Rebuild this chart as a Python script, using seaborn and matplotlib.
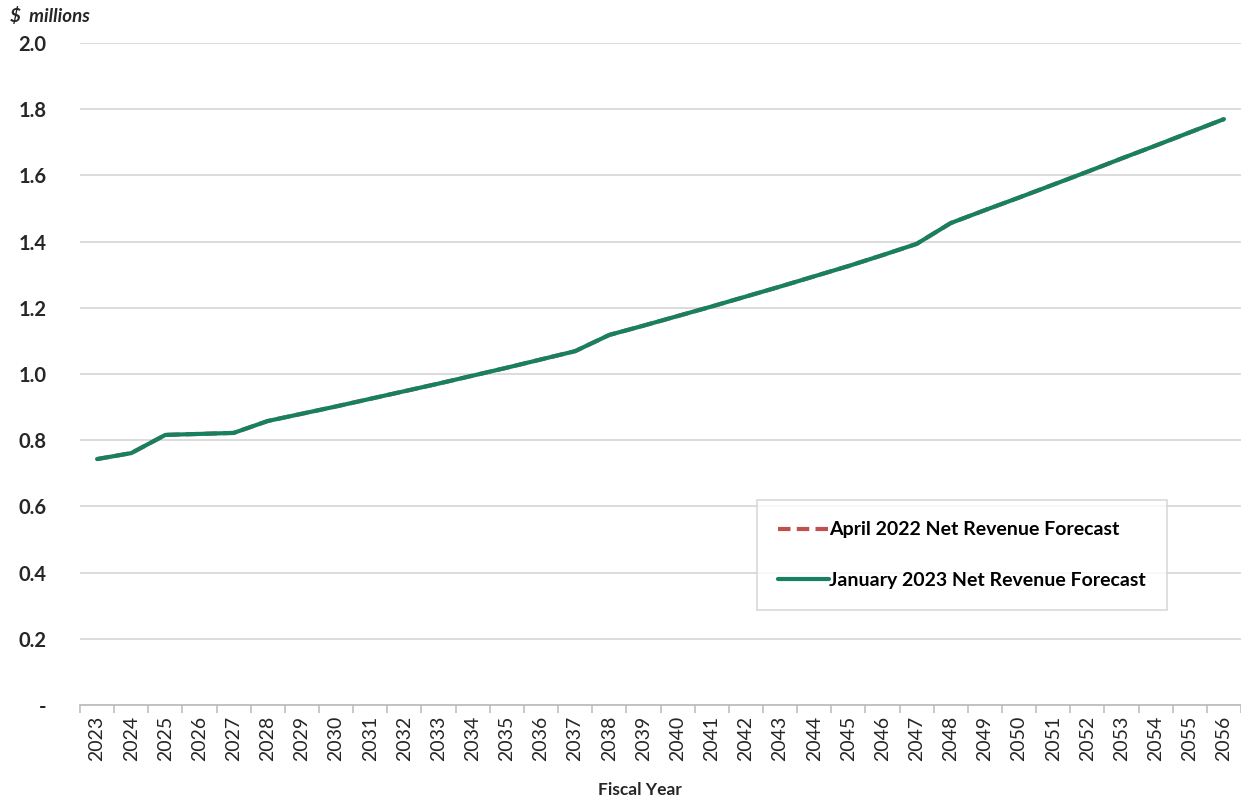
import numpy as np
import pandas as pd
import matplotlib
matplotlib.use("Agg")
import matplotlib.pyplot as plt
import seaborn as sns
from matplotlib.ticker import FixedLocator, FuncFormatter

# 财年与两次预测（单位：百万美元）
years = list(range(2023, 2057))
jan_2023 = [0.743, 0.761, 0.816, 0.819, 0.822, 0.858, 0.880, 0.902, 0.925, 0.948,
            0.971, 0.995, 1.019, 1.044, 1.069, 1.118, 1.146, 1.175, 1.204, 1.234,
            1.264, 1.295, 1.326, 1.359, 1.393, 1.456, 1.495, 1.533, 1.572, 1.611,
            1.651, 1.690, 1.730, 1.770]
# 2022年4月预测与新预测重合，被绿色线覆盖
apr_2022 = list(jan_2023)

df = pd.DataFrame({
    "year": years * 2,
    "value": apr_2022 + jan_2023,
    "series": ["April 2022 Net Revenue Forecast"] * len(years)
              + ["January 2023 Net Revenue Forecast"] * len(years),
})

sns.set_theme(style="white")
plt.rcParams['font.family'] = ['Lato', 'DejaVu Sans']

fig = plt.figure(figsize=(12.41, 8), dpi=100)
ax = fig.add_axes([80 / 1241, 95 / 800, 1161 / 1241, 662 / 800])

sns.lineplot(data=df, x="year", y="value", hue="series", style="series",
             palette=["#C0504D", "#168060"],
             dashes={"April 2022 Net Revenue Forecast": (3, 1.5),
                     "January 2023 Net Revenue Forecast": ""},
             linewidth=3, ax=ax)

ax.set_xlim(2022.5, 2056.5)
ax.set_ylim(0, 2.0)
ax.set_yticks(np.arange(0, 2.01, 0.2))
ax.yaxis.set_major_formatter(FuncFormatter(lambda v, p: "-" if abs(v) < 1e-9 else f"{v:.1f}"))
ax.set_xticks(years)
ax.set_xticklabels([str(y) for y in years], rotation=90, fontsize=14)
ax.xaxis.set_minor_locator(FixedLocator(np.arange(2022.5, 2057, 1)))
ax.tick_params(axis="x", which="major", length=0, pad=8)
ax.tick_params(axis="x", which="minor", length=6, width=1.2, color="#bfbfbf", bottom=True)
ax.tick_params(axis="y", length=0, pad=24, labelsize=14.5)
for t in ax.get_yticklabels():
    t.set_fontweight("bold")

ax.grid(axis="y", color="#d9d9d9", linewidth=1.3)
ax.set_axisbelow(True)
for s in ["top", "right", "left"]:
    ax.spines[s].set_visible(False)
ax.spines["bottom"].set_color("#bfbfbf")
ax.spines["bottom"].set_linewidth(1.3)

ax.set_xlabel("")
ax.set_ylabel("")

leg = ax.legend(loc="upper left", bbox_to_anchor=(0.583, 0.3095), borderaxespad=0,
                frameon=True, fancybox=False, edgecolor="#d0d0d0", handlelength=2.6,
                handletextpad=0.0, labelspacing=1.7, borderpad=1.1,
                prop={"weight": "bold", "size": 14})
leg.get_frame().set_linewidth(1.2)
for t in leg.get_texts():
    t.set_color("black")

fig.text(10 / 1241, 1 - 16 / 800, "$  millions", fontsize=13.5, fontweight="bold",
         fontstyle="italic", va="center", ha="left")
fig.text(640 / 1241, 1 - 790 / 800, "Fiscal Year", fontsize=12.5, fontweight="bold",
         va="center", ha="center")

fig.savefig("out.png", dpi=100)
